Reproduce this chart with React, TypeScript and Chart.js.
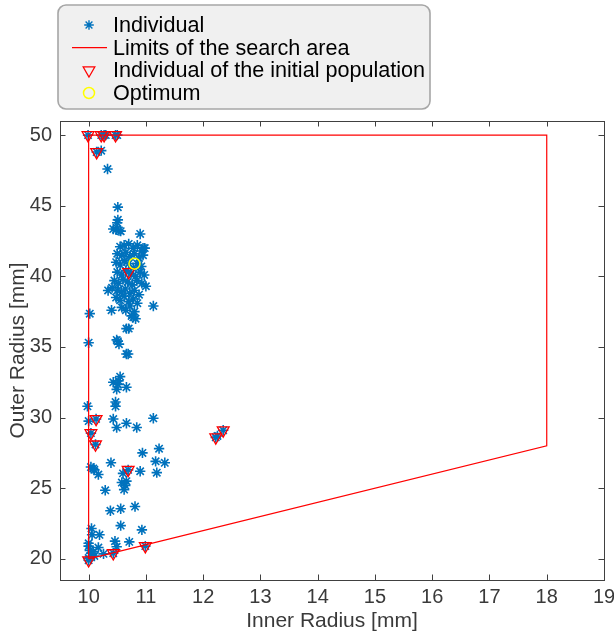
import React, { useEffect, useRef } from 'react';
import { Chart, registerables } from 'chart.js';

Chart.register(...registerables);

// ---------- data ----------
const xTicks = [10, 11, 12, 13, 14, 15, 16, 17, 18, 19];
const yTicks = [20, 25, 30, 35, 40, 45, 50];

const legendLabels = [
  'Individual',
  'Limits of the search area',
  'Individual of the initial population',
  'Optimum',
];

// search-area polygon
const limitX = [10, 10, 18, 18, 10];
const limitY = [20, 50, 50, 28, 20];

// initial population
const initX = [9.99, 10.22, 10.27, 10.47, 10.14, 10.70, 10.13, 10.04, 10.12, 10.69, 12.35, 12.22, 10.0, 10.43, 10.99];
const initY = [50.0, 50.0, 50.0, 50.0, 48.8, 40.3, 29.9, 28.9, 28.1, 26.3, 29.1, 28.6, 19.9, 20.4, 20.9];

// optimum
const optX = [10.8];
const optY = [40.9];

// all individuals
const indX = [
  // top
  9.99, 10.22, 10.27, 10.30, 10.47, 10.50, 10.14, 10.22, 10.33,
  // upper
  10.51, 10.51, 10.50, 10.43, 10.48, 10.53, 10.56, 10.90, 10.95,
  // main cluster
  10.55, 10.62, 10.70, 10.78, 10.85, 10.92, 10.98,
  10.50, 10.58, 10.65, 10.72, 10.80, 10.88, 10.95,
  10.48, 10.55, 10.62, 10.70, 10.78, 10.85, 10.92,
  10.50, 10.58, 10.65, 10.74, 10.82, 10.90, 10.97,
  10.45, 10.52, 10.60, 10.68, 10.76, 10.84, 10.93, 11.00,
  10.41, 10.50, 10.57, 10.64, 10.72, 10.80, 10.88,
  10.48, 10.55, 10.62, 10.70, 10.78, 10.85,
  10.58, 10.65, 10.72, 10.80, 10.75, 10.82, 10.70,
  // middle
  10.34, 10.40, 11.13, 10.02, 10.78, 10.66, 10.70,
  10.00, 10.51, 10.53, 10.49, 10.66, 10.69,
  10.55, 10.43, 10.51, 10.49, 10.66, 10.52,
  9.98, 10.47, 10.47, 10.00, 10.13, 10.43, 10.66, 11.13, 10.49, 10.84,
  // lower
  10.04, 10.12, 10.94, 11.23, 10.39, 11.17, 11.33, 11.19, 10.04, 10.08, 10.10, 10.17,
  10.90, 10.69, 10.60, 10.66, 10.58, 10.62, 10.64, 10.29, 12.35, 12.22, 12.25,
  // bottom
  10.38, 10.56, 10.81, 10.56, 10.05, 10.06, 10.19, 10.93, 10.46, 10.49, 10.71,
  10.00, 10.17, 10.26, 10.05, 10.00, 10.00, 10.02, 10.08, 10.43, 10.99, 10.00, 10.10,
];
const indY = [
  // top
  50.0, 50.0, 50.0, 50.0, 50.0, 50.0, 48.8, 48.9, 47.6,
  // upper
  44.9, 44.0, 43.8, 43.35, 43.3, 43.25, 43.2, 43.0, 42.0,
  // main cluster
  42.1, 42.2, 42.3, 42.0, 42.2, 41.8, 42.0,
  41.6, 41.5, 41.7, 41.4, 41.6, 41.3, 41.5,
  41.0, 40.8, 41.1, 40.9, 40.6, 40.9, 40.7,
  40.3, 40.1, 40.4, 40.2, 40.0, 40.3, 40.1,
  39.7, 39.5, 39.8, 39.6, 39.4, 39.7, 39.5, 39.3,
  39.2, 39.0, 38.9, 39.1, 38.8, 39.0, 38.7,
  38.5, 38.3, 38.6, 38.2, 38.4, 38.1,
  37.8, 37.6, 37.9, 37.5, 37.2, 37.0, 40.3,
  // middle
  39.0, 37.6, 37.9, 37.36, 37.1, 36.3, 36.3,
  35.3, 35.4, 35.2, 35.5, 34.5, 34.5,
  32.9, 32.5, 32.35, 32.0, 32.15, 32.6,
  30.8, 31.1, 30.8, 29.75, 29.9, 29.9, 29.6, 29.95, 29.3, 29.3,
  // lower
  28.9, 28.1, 27.5, 27.8, 26.8, 26.9, 26.8, 26.1, 26.5, 26.4, 26.3, 25.97,
  26.2, 26.3, 26.05, 25.5, 25.4, 24.9, 25.2, 24.85, 29.1, 28.6, 28.7,
  // bottom
  23.4, 23.55, 23.7, 22.35, 22.15, 21.7, 21.7, 22.05, 21.25, 20.85, 21.2,
  20.9, 20.8, 20.35, 20.4, 20.05, 19.9, 20.6, 20.5, 20.4, 20.9, 21.1, 20.2,
];

const zip = (xs: number[], ys: number[]) => xs.map((x, i) => ({ x, y: ys[i] }));

const BLUE = '#0072BD';
const RED = '#FF0000';
const YELLOW = '#FFFF00';
const AXIS = '#3a3a3a';
const FONT = "'Liberation Sans', Arial, sans-serif";

// ---------- plugins ----------
const boxPlugin = {
  id: 'matlabBox',
  afterDatasetsDraw(chart: any) {
    const { ctx, chartArea } = chart;
    const { left, right, top, bottom } = chartArea;
    const xs = chart.scales.x;
    const ys = chart.scales.y;
    const tl = 5.5;
    ctx.save();
    ctx.strokeStyle = '#404040';
    ctx.lineWidth = 1;
    ctx.beginPath();
    xs.ticks.forEach((t: any) => {
      const p = Math.round(xs.getPixelForValue(t.value)) + 0.5;
      ctx.moveTo(p, bottom);
      ctx.lineTo(p, bottom - tl);
      ctx.moveTo(p, top);
      ctx.lineTo(p, top + tl);
    });
    ys.ticks.forEach((t: any) => {
      const p = Math.round(ys.getPixelForValue(t.value)) + 0.5;
      ctx.moveTo(left, p);
      ctx.lineTo(left + tl, p);
      ctx.moveTo(right, p);
      ctx.lineTo(right - tl, p);
    });
    ctx.stroke();
    ctx.strokeRect(Math.round(left) + 0.5, Math.round(top) + 0.5, Math.round(right - left), Math.round(bottom - top));
    ctx.restore();
  },
};

function drawStar(ctx: CanvasRenderingContext2D, x: number, y: number, r: number) {
  ctx.beginPath();
  for (let k = 0; k < 4; k++) {
    const a = (k * Math.PI) / 4;
    ctx.moveTo(x - Math.cos(a) * r, y - Math.sin(a) * r);
    ctx.lineTo(x + Math.cos(a) * r, y + Math.sin(a) * r);
  }
  ctx.stroke();
}

const legendPlugin = {
  id: 'matlabLegend',
  afterDraw(chart: any) {
    const { ctx } = chart;
    const bx = 58, by = 5, bw = 372, bh = 104, rr = 8;
    ctx.save();
    ctx.beginPath();
    ctx.moveTo(bx + rr, by);
    ctx.arcTo(bx + bw, by, bx + bw, by + bh, rr);
    ctx.arcTo(bx + bw, by + bh, bx, by + bh, rr);
    ctx.arcTo(bx, by + bh, bx, by, rr);
    ctx.arcTo(bx, by, bx + bw, by, rr);
    ctx.closePath();
    ctx.fillStyle = '#f0f0f0';
    ctx.fill();
    ctx.strokeStyle = '#a6a6a6';
    ctx.lineWidth = 1.6;
    ctx.stroke();

    const mx = 89;
    const tx = 113;
    const rows = [25, 47.7, 70.3, 93];
    ctx.font = `21.6px ${FONT}`;
    ctx.fillStyle = '#000000';
    ctx.textBaseline = 'middle';
    ctx.textAlign = 'left';
    legendLabels.forEach((lab, i) => {
      ctx.fillText(lab, tx, rows[i] + 1);
    });
    // markers
    ctx.lineWidth = 1.4;
    ctx.strokeStyle = BLUE;
    drawStar(ctx, mx, rows[0], 4.8);
    ctx.strokeStyle = RED;
    ctx.lineWidth = 1.2;
    ctx.beginPath();
    ctx.moveTo(72, rows[1]);
    ctx.lineTo(107, rows[1]);
    ctx.stroke();
    ctx.beginPath();
    const r = 6.8;
    for (let k = 0; k < 3; k++) {
      const a = Math.PI + (k * 2 * Math.PI) / 3;
      const px = mx + Math.sin(a) * r;
      const py = rows[2] - Math.cos(a) * r;
      if (k === 0) ctx.moveTo(px, py);
      else ctx.lineTo(px, py);
    }
    ctx.closePath();
    ctx.stroke();
    ctx.strokeStyle = YELLOW;
    ctx.lineWidth = 1.5;
    ctx.beginPath();
    ctx.arc(mx, rows[3], 5.5, 0, Math.PI * 2);
    ctx.stroke();
    ctx.restore();
  },
};

export default function App() {
  const ref = useRef<HTMLCanvasElement | null>(null);

  useEffect(() => {
    if (!ref.current) return;
    const chart = new Chart(ref.current, {
      type: 'scatter',
      data: {
        datasets: [
          {
            label: legendLabels[0],
            data: zip(indX, indY),
            pointStyle: 'star',
            pointRadius: 5.2,
            pointBorderWidth: 1.6,
            borderColor: BLUE,
            backgroundColor: BLUE,
            order: 4,
          },
          {
            label: legendLabels[1],
            data: zip(limitX, limitY),
            showLine: true,
            borderColor: RED,
            borderWidth: 1.2,
            pointRadius: 0,
            fill: false,
            tension: 0,
            order: 3,
          },
          {
            label: legendLabels[2],
            data: zip(initX, initY),
            pointStyle: 'triangle',
            rotation: 180,
            pointRadius: 6.8,
            pointBorderWidth: 1.3,
            borderColor: RED,
            backgroundColor: 'rgba(0,0,0,0)',
            order: 2,
          },
          {
            label: legendLabels[3],
            data: zip(optX, optY),
            pointStyle: 'circle',
            pointRadius: 5.5,
            pointBorderWidth: 1.5,
            borderColor: YELLOW,
            backgroundColor: 'rgba(0,0,0,0)',
            order: 1,
          },
        ] as any,
      },
      options: {
        animation: false,
        responsive: false,
        devicePixelRatio: 1,
        clip: false as any,
        layout: { padding: { left: 0, top: 121, right: 10, bottom: 0 } },
        plugins: {
          legend: { display: false },
          tooltip: { enabled: false },
        },
        scales: {
          x: {
            type: 'linear',
            min: 9.5,
            max: 19,
            afterBuildTicks: (s: any) => {
              s.ticks = xTicks.map((v) => ({ value: v }));
            },
            afterFit: (s: any) => {
              s.height = 57;
              s.paddingLeft = 0;
              s.paddingRight = 0;
            },
            grid: { display: false, drawTicks: false },
            border: { display: false },
            ticks: {
              color: AXIS,
              padding: 5,
              maxRotation: 0,
              autoSkip: false,
              font: { family: FONT, size: 20 },
            },
            title: {
              display: true,
              text: 'Inner Radius [mm]',
              color: AXIS,
              font: { family: FONT, size: 21 },
              padding: { top: 0, bottom: 3 },
            },
          },
          y: {
            type: 'linear',
            min: 18.5,
            max: 51,
            afterBuildTicks: (s: any) => {
              s.ticks = yTicks.map((v) => ({ value: v }));
            },
            afterFit: (s: any) => {
              s.width = 60;
              s.paddingTop = 0;
              s.paddingBottom = 0;
            },
            grid: { display: false, drawTicks: false },
            border: { display: false },
            ticks: {
              color: AXIS,
              padding: 8,
              autoSkip: false,
              font: { family: FONT, size: 20 },
            },
            title: {
              display: true,
              text: 'Outer Radius [mm]',
              color: AXIS,
              font: { family: FONT, size: 21 },
              padding: { top: 6, bottom: 0 },
            },
          },
        },
      } as any,
      plugins: [boxPlugin, legendPlugin],
    });
    return () => chart.destroy();
  }, []);

  return (
    <div style={{ position: 'absolute', left: 0, top: 0, width: 614, height: 637, background: '#ffffff' }}>
      <canvas ref={ref} width={614} height={637} style={{ display: 'block' }} />
    </div>
  );
}
